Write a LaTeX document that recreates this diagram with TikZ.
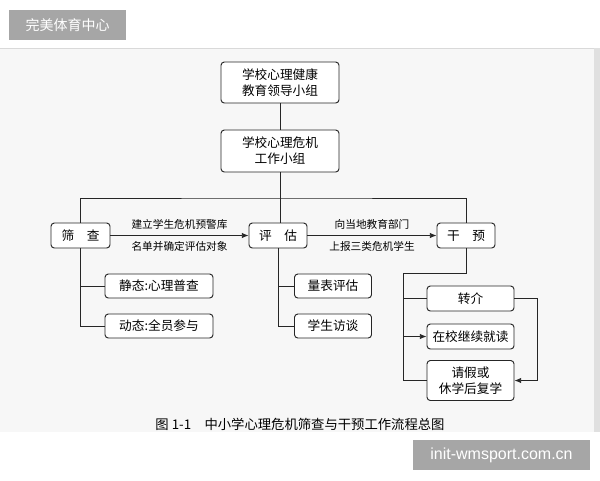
\documentclass[tikz,border=0pt]{standalone}
\usepackage{fontspec}
\setmainfont{Noto Sans CJK SC}
\newfontfamily\lat{Liberation Sans}
\usetikzlibrary{arrows.meta}
\begin{document}
\begin{tikzpicture}[x=0.75pt,y=-0.75pt,
  box/.style={draw=black!85,line width=0.7pt,rounded corners=2.5pt,fill=white,inner sep=0pt,font=\fontsize{9.5}{12}\selectfont,align=center},
  ln/.style={draw=black!85,line width=0.6pt},
  arr/.style={ln,-{Latex[length=5pt,width=4pt]}},
  lab/.style={font=\fontsize{8}{9}\selectfont}]
\useasboundingbox (0,0) rectangle (600,480);
\fill[white] (0,0) rectangle (600,480);
\fill[black!3] (0,48) rectangle (594,432);
\draw[black!15] (0,48) -- (594,48);
\fill[black!12] (594,48) rectangle (600,432);
% watermark
\node[fill=black!35,text=white,minimum width=117*0.75pt,minimum height=30*0.75pt,inner sep=0pt,font=\fontsize{10.5}{12}\selectfont] (wm) at (67.5,25) {完美体育中心};
\node[fill=black!35,text=white,minimum width=177*0.75pt,minimum height=30*0.75pt,inner sep=0pt,font=\lat\fontsize{12}{14}\selectfont] (url) at (501.5,455) {init-wmsport.com.cn};
% boxes
\node[box,minimum width=118*0.75pt,minimum height=41*0.75pt] (lead) at (280,82.5) {学校心理健康\\教育领导小组};
\node[box,minimum width=118*0.75pt,minimum height=42*0.75pt] (work) at (280,151) {学校心理危机\\工作小组};
\node[box,minimum width=59*0.75pt,minimum height=25*0.75pt] (sc) at (80.5,235.5) {筛\quad 查};
\node[box,minimum width=58*0.75pt,minimum height=25*0.75pt] (pg) at (278,235.5) {评\quad 估};
\node[box,minimum width=58*0.75pt,minimum height=25*0.75pt] (gy) at (466,235.5) {干\quad 预};
\node[box,minimum width=108*0.75pt,minimum height=24*0.75pt] (jt) at (159,286) {静态:心理普查};
\node[box,minimum width=108*0.75pt,minimum height=24*0.75pt] (dt) at (159,326) {动态:全员参与};
\node[box,minimum width=77*0.75pt,minimum height=24*0.75pt] (lb) at (333,286) {量表评估};
\node[box,minimum width=77*0.75pt,minimum height=24*0.75pt] (xs) at (333,326) {学生访谈};
\node[box,minimum width=87*0.75pt,minimum height=25*0.75pt] (zj) at (470.5,298.5) {转介};
\node[box,minimum width=87*0.75pt,minimum height=25*0.75pt] (zx) at (470.5,336.5) {在校继续就读};
\node[box,minimum width=87*0.75pt,minimum height=40*0.75pt] (qj) at (470.5,380.5) {请假或\\休学后复学};
% connectors
\draw[ln] (lead) -- (work);
\draw[ln] (work.south) -- (work.south|-pg.north);
\draw[ln] (sc.north) |- (280,198) -| (gy.north);
\draw[arr] (sc) -- node[lab,above=1pt]{建立学生危机预警库} node[lab,below=1pt]{名单并确定评估对象} (pg);
\draw[arr] (pg) -- node[lab,above=1pt]{向当地教育部门} node[lab,below=1pt]{上报三类危机学生} (gy);
\draw[ln] (sc.south) |- (dt.west);
\draw[ln] (81,286) -- (jt.west);
\draw[ln] (pg.south) |- (xs.west);
\draw[ln] (278,286) -- (lb.west);
\coordinate (g1) at (466,273);
\coordinate (g2) at (403,273);
\draw[ln] (gy.south) -- (g1) -- (g2) |- (qj.west);
\draw[ln] (403,298.5) -- (zj.west);
\draw[arr] (403,336.5) -- (zx.west);
\coordinate (r1) at (537,298.5);
\draw[arr] (zj.east) -- (r1) |- (qj.east);
\node[font=\fontsize{10}{12}\selectfont] (cap) at (300,424) {图 1-1\quad 中小学心理危机筛查与干预工作流程总图};
\end{tikzpicture}
\end{document}
